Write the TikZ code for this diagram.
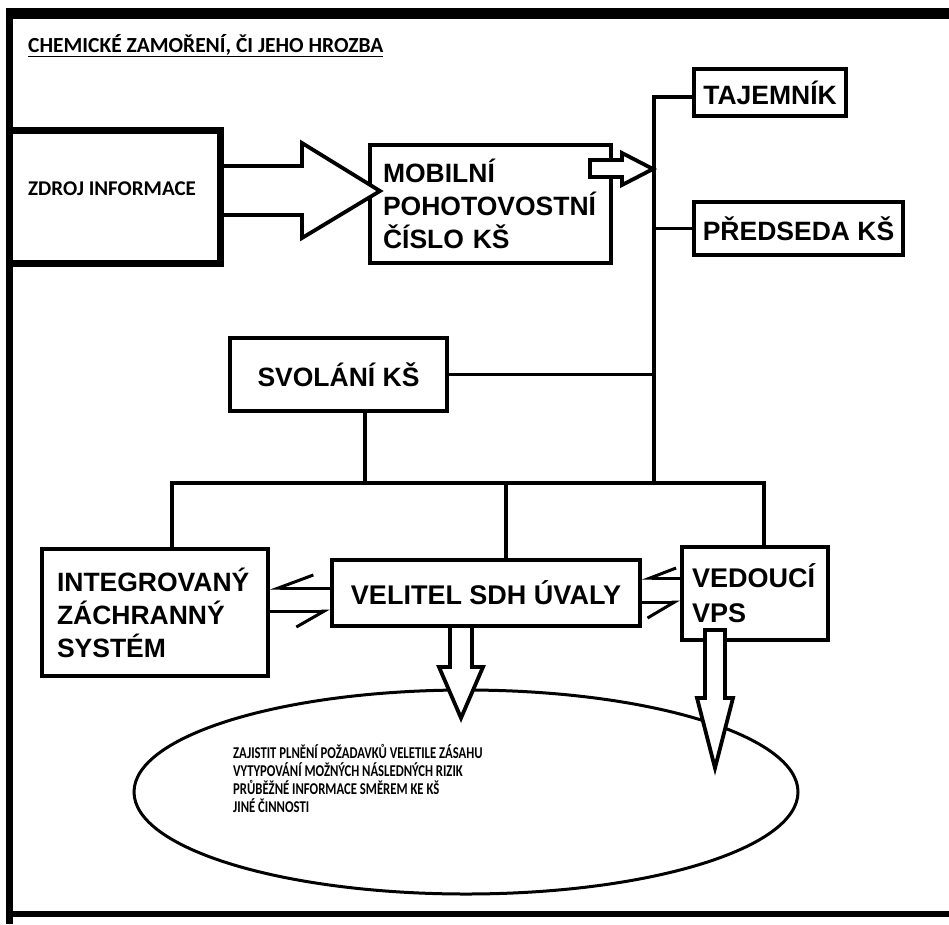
\documentclass[tikz,border=0pt]{standalone}
\usepackage{fontspec}
\setmainfont{Liberation Sans}
\newfontfamily\calfont{Carlito}
\newfontfamily\calnarrow[FakeStretch=0.77]{Carlito}
\usetikzlibrary{arrows.meta,shapes.geometric}

\begin{document}
\begin{tikzpicture}[x=1pt,y=-1pt,
    box/.style={draw,line width=4pt,inner sep=0pt,font=\bfseries\fontsize{26.5}{33}\selectfont},
    link/.style={line width=3.5pt},
    fat/.style={draw,line width=3.8pt,fill=white,line join=miter},
    harp/.style={line width=3pt}]
    \useasboundingbox (0,0) rectangle (949,924);

    %%frame
    \draw[line width=11pt] (6,13.5) -- (949,13.5);
    \draw[line width=7pt] (9.5,8) -- (9.5,924);
    \draw[line width=6pt] (6,914) -- (949,914);
    \node[anchor=base west,inner sep=0pt,font=\calfont\bfseries\fontsize{21.5}{25}\selectfont] (title) at (28,52) {\underline{CHEMICKÉ ZAMOŘENÍ, ČI JEHO HROZBA}};

    %%boxes
    \node[draw,line width=7pt,minimum width=211pt,minimum height=133pt] (zdroj) at (115,197) {};
    \node[anchor=base west,inner sep=0pt,font=\calfont\bfseries\fontsize{21}{25}\selectfont] (zdrojtxt) at (28,195) {ZDROJ INFORMACE};
    \node[box,minimum width=241pt,minimum height=118pt,text width=215pt,inner xsep=13pt,align=left] (mobil) at (490.5,204) {MOBILNÍ\\POHOTOVOSTNÍ\\ČÍSLO KŠ};
    \node[box,minimum width=152pt,minimum height=47pt] (tajem) at (770,92.5) {TAJEMNÍK};
    \node[box,minimum width=209pt,minimum height=53pt] (preds) at (798.5,228.5) {PŘEDSEDA KŠ};
    \node[box,minimum width=217pt,minimum height=73pt] (svol) at (338.5,374.5) {SVOLÁNÍ KŠ};
    \node[box,minimum width=226pt,minimum height=127pt,text width=196pt,inner xsep=15pt,align=left] (integ) at (155,612.5) {INTEGROVANÝ\\ZÁCHRANNÝ\\SYSTÉM};
    \node[box,minimum width=308pt,minimum height=66pt,font=\bfseries\fontsize{27}{33}\selectfont] (velit) at (486,593) {VELITEL SDH ÚVALY};
    \node[box,minimum width=146pt,minimum height=93pt,text width=126pt,inner xsep=10pt,align=left,font=\bfseries\fontsize{27}{35}\selectfont] (vedou) at (755,593.5) {VEDOUCÍ\\VPS};

    %%tree
    \coordinate (trunkTop) at (654,97);
    \coordinate (trunkBot) at (654,483);
    \coordinate (busL) at (172,483);
    \coordinate (busM) at (506,483);
    \coordinate (busR) at (764,483);
    \coordinate (svolDrop) at (365,483);
    \draw[link] (tajem.west |- trunkTop) -- (trunkTop) -- (trunkBot);
    \draw[link] (preds.west) -- (preds.west -| trunkTop);
    \draw[link] (svol.east) -- (svol.east -| trunkTop);
    \draw[link] (svol.south -| svolDrop) -- (svolDrop);
    \draw[link] (integ.north -| busL) -- (busL) -- (busR) -- (vedou.north -| busR);
    \draw[link] (busM) -- (velit.north -| busM);

    %%harpoons
    \draw[harp,-{Straight Barb[right,length=35pt,width=26pt]}] (velit.west |- 0,588) -- (integ.east |- 0,588);
    \draw[harp,-{Straight Barb[right,length=28pt,width=32pt]}] (integ.east |- 0,611) -- (velit.west |- 0,611);
    \draw[harp,-{Straight Barb[right,length=26pt,width=20pt]}] (vedou.west |- 0,578) -- (velit.east |- 0,578);
    \draw[harp,-{Straight Barb[right,length=27pt,width=32pt]}] (velit.east |- 0,602) -- (vedou.west |- 0,602);

    %%ellipse
    \node[ellipse,draw,line width=3pt,minimum width=664pt,minimum height=204pt] (ell) at (466,792) {};
    \node[anchor=north west,inner sep=0pt,align=left,font=\calnarrow\bfseries\fontsize{16.5}{18}\selectfont] (tasks) at (233,744) {ZAJISTIT PLNĚNÍ POŽADAVKŮ VELETILE ZÁSAHU\\VYTYPOVÁNÍ MOŽNÝCH NÁSLEDNÝCH RIZIK\\PRŮBĚŽNÉ INFORMACE SMĚREM KE KŠ\\JINÉ ČINNOSTI};

    %%block arrows
    \draw[fat] (zdroj.east |- 0,166) -- (302,166) -- (302,143) -- (380,191) -- (302,238) -- (302,215) -- (zdroj.east |- 0,215);
    \draw[fat] (590,160) -- (622,160) -- (622,153) -- (653,169) -- (622,185) -- (622,177) -- (590,177) -- cycle;
    \draw[fat] (velit.south -| 450,0) -- (450,667) -- (439,667) -- (461,718) -- (483,667) -- (472,667) -- (velit.south -| 472,0);
    \draw[fat] (705,630) -- (725,630) -- (725,698) -- (733,698) -- (715,768) -- (697,698) -- (705,698) -- cycle;
\end{tikzpicture}
\end{document}
